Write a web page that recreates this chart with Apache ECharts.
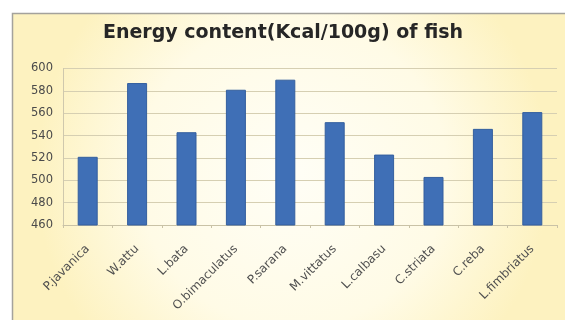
<!DOCTYPE html>
<html>
<head>
<meta charset="utf-8">
<style>
  html, body { margin: 0; padding: 0; background: #ffffff; }
  #chart { width: 565px; height: 320px; }
</style>
<script src="https://cdn.jsdelivr.net/npm/echarts@6/dist/echarts.min.js"></script>
</head>
<body>
<div id="chart"></div>
<script>
// Fish species and their energy content (Kcal/100g)
const species = ['P.javanica', 'W.attu', 'L.bata', 'O.bimaculatus', 'P.sarana',
                 'M.vittatus', 'L.calbasu', 'C.striata', 'C.reba', 'L.fimbriatus'];
const energy = [521, 587, 543, 581, 590, 552, 523, 503, 546, 561];

// Value axis range
const yMin = 460;
const yMax = 600;
const yStep = 20;

const chart = echarts.init(document.getElementById('chart'), null, { renderer: 'canvas' });

chart.setOption({
  backgroundColor: '#ffffff',
  animation: false,
  graphic: [{
    type: 'rect',
    z: -10,
    silent: true,
    shape: { x: 12.5, y: 13.5, width: 560, height: 320 },
    style: {
      fill: {
        type: 'radial', x: 0.5, y: 0.5, r: 0.8,
        colorStops: [
          { offset: 0, color: '#fffef6' },
          { offset: 0.6, color: '#fffbe6' },
          { offset: 1, color: '#fdf2c0' }
        ]
      },
      stroke: '#a4a29c',
      lineWidth: 1.5
    }
  }],
  title: {
    text: 'Energy content(Kcal/100g) of fish',
    left: 278,
    textAlign: 'center',
    top: 19,
    textStyle: {
      fontFamily: 'DejaVu Sans',
      fontWeight: 'bold',
      fontSize: 19,
      color: '#262626'
    }
  },
  grid: { left: 63, right: 8, top: 68.5, bottom: 95, containLabel: false },
  xAxis: {
    type: 'category',
    data: species,
    axisLine: { lineStyle: { color: '#c9c2a6' } },
    axisTick: { show: true, lineStyle: { color: '#c9c2a6' }, length: 3 },
    axisLabel: {
      rotate: 45,
      interval: 0,
      margin: 22,
      fontFamily: 'DejaVu Sans',
      fontSize: 12,
      color: '#505050'
    }
  },
  yAxis: {
    type: 'value',
    min: yMin,
    max: yMax,
    interval: yStep,
    axisLine: { show: true, lineStyle: { color: '#cfc8ad' } },
    axisTick: { show: false },
    splitLine: { lineStyle: { color: '#d6cfb2', width: 1 } },
    axisLabel: {
      margin: 10,
      fontFamily: 'DejaVu Sans',
      fontSize: 11.5,
      color: '#4a4a4a'
    }
  },
  series: [{
    type: 'bar',
    data: energy,
    barWidth: 20,
    itemStyle: {
      color: '#3f6fb6',
      borderColor: '#345f9e',
      borderWidth: 1
    }
  }]
});
</script>
</body>
</html>
